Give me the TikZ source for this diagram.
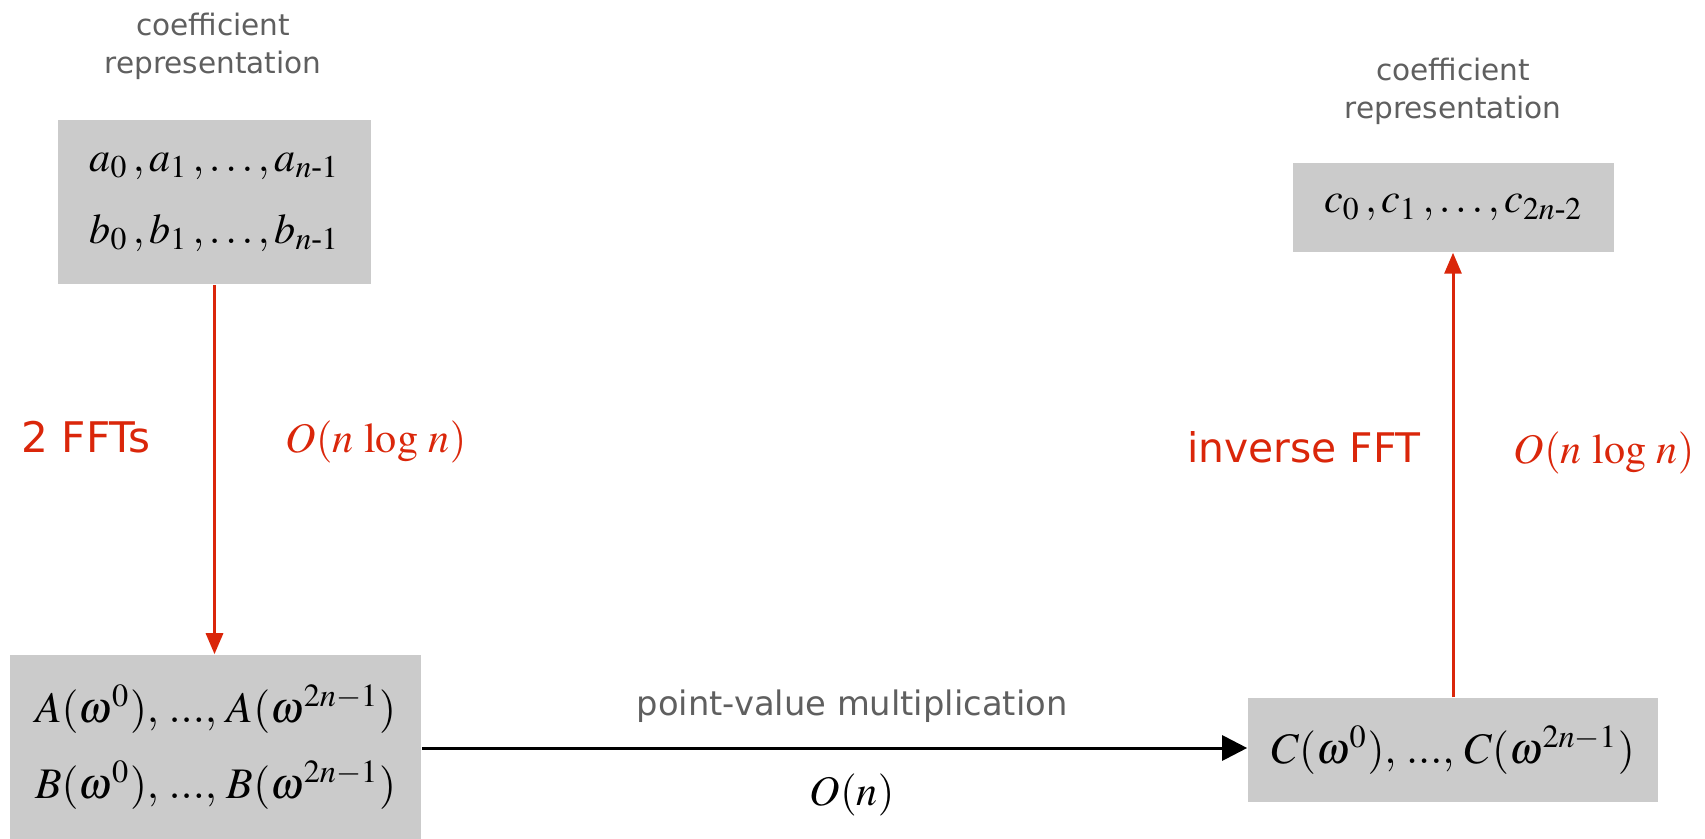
\documentclass[tikz,border=0pt]{standalone}
\usepackage{amsmath}
\usepackage{mathptmx}
\usepackage{fontspec}
\setmainfont{Liberation Serif}
\newfontfamily\handfont{DejaVu Sans}
\usepackage{tikz}
\usetikzlibrary{arrows.meta}
\definecolor{boxgray}{RGB}{203,203,203}
\definecolor{labelgray}{RGB}{95,95,95}
\definecolor{fftred}{RGB}{218,38,10}
\tikzstyle{valbox}=[fill=boxgray, inner sep=0pt, align=center
,font=\fontsize{12}{20.5}\selectfont
]
\tikzstyle{graylabel}=[labelgray, inner sep=0pt, align=center
,font=\handfont\fontsize{8.4}{10.8}\selectfont
]
\tikzstyle{redlabel}=[fftred, inner sep=0pt, anchor=base
,font=\handfont\fontsize{12}{14}\selectfont
]
\tikzstyle{costlabel}=[inner sep=0pt, anchor=base, font=\fontsize{12}{14}\selectfont]
\tikzstyle{fftedge} = [draw, fftred, line width=0.03cm, -{Triangle[length=0.21cm,width=0.17cm]}]
\tikzstyle{muledge} = [draw, black, line width=0.03cm, -{Triangle[length=0.25cm,width=0.25cm]}]

\begin{document}
\begin{tikzpicture}[x=0.01cm, y=-0.01cm]
    \useasboundingbox (0,0) rectangle (1705,839);
    % The four boxes of values
    \node[valbox, minimum width=3.13cm, minimum height=1.64cm] (coef_ab) at (214.5,202)
        {$a_0\,, a_1\,, \ldots, a_{n\text{-}1}$\\ $b_0\,, b_1\,, \ldots, b_{n\text{-}1}$};
    \node[valbox, minimum width=3.21cm, minimum height=0.89cm] (coef_c) at (1453.5,207.5)
        {$c_0\,, c_1\,, \ldots, c_{2n\text{-}2}$};
    \node[valbox, minimum width=4.11cm, minimum height=1.84cm, font=\fontsize{12.4}{21.5}\selectfont] (pv_ab) at (215.5,747)
        {$A(\omega^{0}),\, ...,\, A(\omega^{2n-1})$\\ $B(\omega^{0}),\, ...,\, B(\omega^{2n-1})$};
    \node[valbox, minimum width=4.10cm, minimum height=1.04cm, font=\fontsize{12.4}{21.5}\selectfont] (pv_c) at (1453,750)
        {$C(\omega^{0}),\, ...,\, C(\omega^{2n-1})$};

    % Labels over the coefficient boxes
    \foreach \pos/\name in {{(213,12)/lbl_in}, {(1453,57)/lbl_out}}
        \node[graylabel, anchor=north] (\name) at \pos {coefficient\\representation};

    % Connect boxes with arrows
    \path[fftedge] (coef_ab.south) -- (coef_ab.south |- pv_ab.north);
    \path[fftedge] (pv_c.north) -- (pv_c.north |- coef_c.south);
    \path[muledge] (pv_ab.east |- 0,748) -- (pv_c.west |- 0,748);

    % Labels of the steps
    \node[redlabel] (fft_txt) at (86,452) {2 FFTs};
    \node[costlabel, fftred] (fft_cost) at (376,452) {$O(n\ \mathrm{log}\ n)$};
    \node[redlabel, font=\handfont\fontsize{11.6}{14}\selectfont] (ifft_txt) at (1304,462) {inverse FFT};
    \node[costlabel, fftred] (ifft_cost) at (1604,463) {$O(n\ \mathrm{log}\ n)$};
    \node[graylabel, anchor=base, font=\handfont\fontsize{9.6}{12}\selectfont] (mul_txt) at (852,715) {point-value multiplication};
    \node[costlabel] (mul_cost) at (852,805) {$O(n)$};
\end{tikzpicture}
\end{document}
